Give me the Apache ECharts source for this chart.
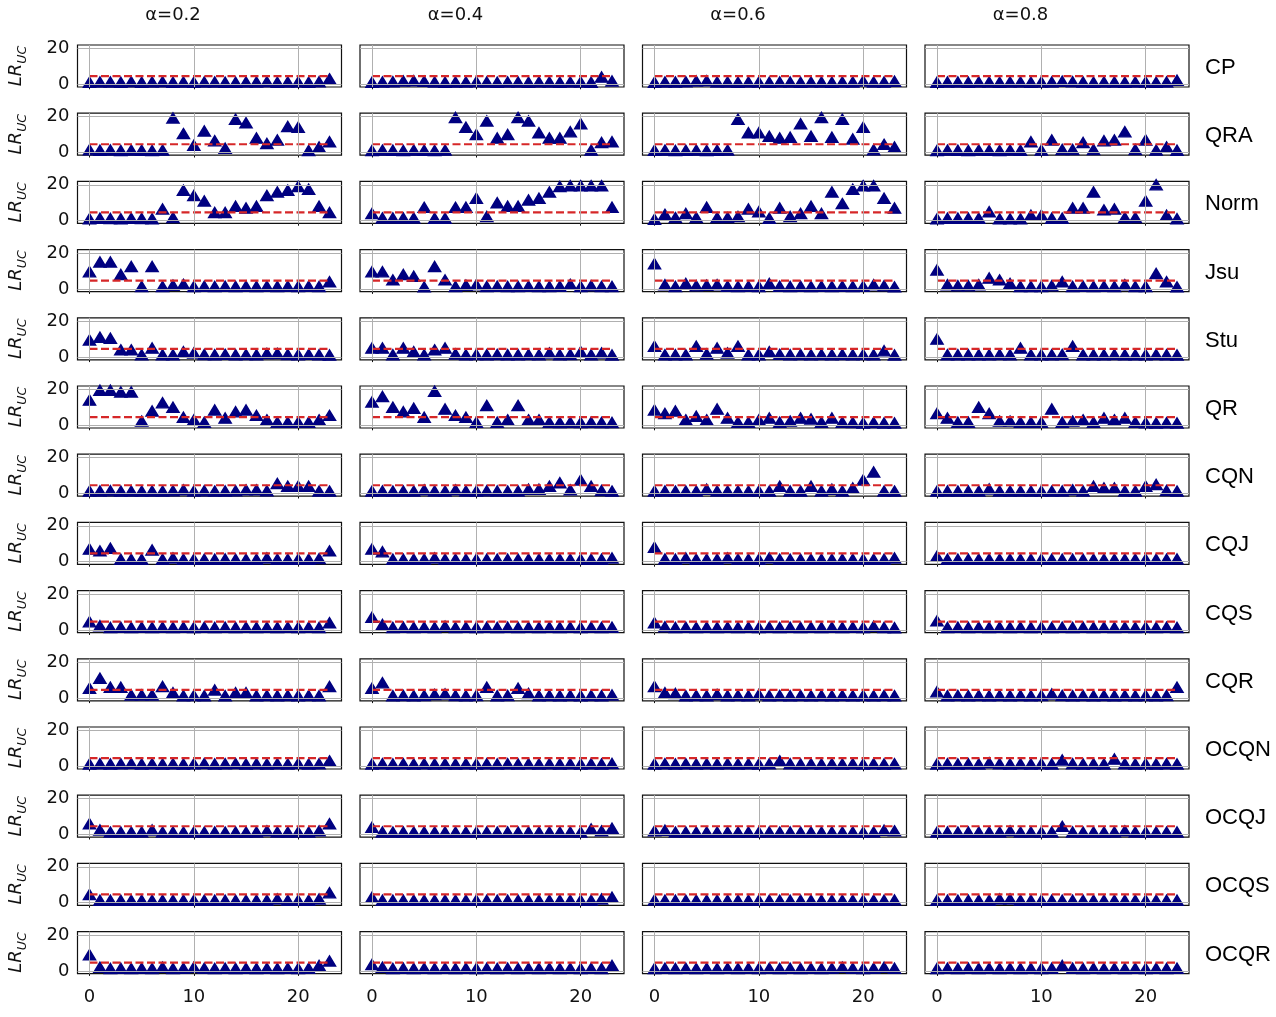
<!DOCTYPE html>
<html>
<head>
<meta charset="utf-8">
<script src="https://cdn.jsdelivr.net/npm/echarts@6/dist/echarts.min.js"></script>
<style>
  html, body { margin: 0; padding: 0; background: #fff; }
  #chart { width: 1276px; height: 1017px; }
</style>
</head>
<body>
<div id="chart"></div>
<script>
// column / row labels and ticks
const alphas = ['α=0.2', 'α=0.4', 'α=0.6', 'α=0.8']
const models = ['CP', 'QRA', 'Norm', 'Jsu', 'Stu', 'QR', 'CQN', 'CQJ', 'CQS', 'CQR', 'OCQN', 'OCQJ', 'OCQS', 'OCQR']
const xTicks = [0, 10, 20]
const yTicks = [0, 20]
const threshold = 4.6 // dashed critical-value line

// LR_uc per window (x = 0..23), one array per alpha
const CP = [
  [1.1,1.3,1.2,1.1,1.4,1.1,1.3,1.4,1.1,1.2,1.1,1.3,1.2,1.1,1.1,1.3,1.2,1.4,1.1,1.2,1.3,1.1,1.4,3.0],
  [1.1,1.3,1.4,1.8,2.0,1.7,1.3,1.1,1.2,1.3,1.4,1.2,1.1,1.3,1.2,1.1,1.3,1.2,1.1,1.3,1.2,1.1,4.0,1.8],
  [1.1,1.3,1.2,1.4,1.8,1.9,1.3,1.2,1.1,1.3,1.2,1.1,1.3,1.2,1.1,1.3,1.2,1.1,1.3,1.2,1.8,1.3,1.2,1.7],
  [1.1,1.2,1.3,1.1,1.3,1.2,1.1,1.2,1.3,1.1,1.2,1.3,1.7,1.4,1.2,1.1,1.3,1.2,1.1,1.3,1.2,1.1,1.3,2.2]
]
const QRA = [
  [1.5,1.2,1.4,1.1,1.3,1.2,1.1,1.3,19.2,10.5,4.0,12.0,6.5,2.3,18.5,16.5,8.0,5.0,7.0,14.5,14.0,1.1,3.0,6.0],
  [1.1,1.3,1.2,1.1,1.3,1.2,1.1,1.3,19.5,14.0,10.0,17.5,8.0,10.0,19.5,17.5,11.0,8.0,8.0,11.5,16.0,1.3,5.5,6.0],
  [1.2,1.3,1.1,1.2,1.3,1.1,1.2,1.3,18.5,11.0,11.0,9.0,8.0,8.5,16.0,9.0,19.5,8.5,18.5,7.5,14.0,1.5,4.5,3.0],
  [1.1,1.3,1.2,1.1,1.3,1.2,1.1,1.3,1.2,6.0,1.3,7.0,1.7,1.7,5.5,1.7,6.5,7.0,11.5,1.7,7.0,1.3,3.0,1.2]
]
const Norm = [
  [1.1,1.3,1.2,1.1,1.3,1.2,1.1,6.5,1.7,17.0,14.0,11.0,4.5,4.5,8.0,7.0,8.0,14.0,16.0,17.0,19.0,17.5,8.0,4.5],
  [4.0,1.5,1.5,1.5,1.5,7.4,1.3,1.3,7.4,7.5,12.5,2.3,10.0,8.0,8.0,11.5,12.5,16.0,19.0,19.5,19.5,19.5,19.5,7.5],
  [0.8,3.5,1.7,4.0,1.7,7.5,1.7,1.7,2.3,6.5,5.0,1.3,7.0,2.3,4.0,8.0,4.0,16.0,9.5,17.5,19.5,19.5,12.5,7.0],
  [1.0,1.3,1.3,1.3,1.3,5.0,1.0,1.0,1.0,3.0,3.0,1.3,1.3,7.0,7.0,16.0,6.0,6.5,1.7,1.7,11.0,20.0,3.0,1.1]
]
const Jsu = [
  [9.5,15.0,15.0,8.0,12.5,1.3,12.5,1.3,2.0,2.5,1.3,1.5,1.3,1.4,1.3,1.5,1.3,1.4,1.3,1.5,1.3,1.4,1.3,4.0],
  [9.5,9.5,5.0,8.0,7.0,1.1,12.5,5.0,1.3,2.0,2.3,1.3,1.4,1.3,1.3,1.4,1.3,1.3,1.4,2.5,1.3,1.7,1.3,1.3],
  [14.0,2.3,1.3,3.0,1.7,2.0,2.3,1.5,1.3,1.5,1.3,3.0,1.5,1.3,1.4,1.3,1.5,1.3,1.4,1.3,1.4,2.3,1.7,1.1],
  [10.5,2.3,1.7,1.7,2.3,6.0,5.0,3.0,1.3,1.3,1.3,1.7,4.0,1.3,1.4,1.3,1.4,1.3,2.3,1.3,1.3,8.5,4.0,1.1]
]
const Stu = [
  [9.5,11.0,10.5,4.0,4.0,1.3,5.0,1.3,1.3,3.0,2.3,1.4,1.3,1.5,1.3,1.4,1.3,2.0,2.0,1.4,1.3,1.5,1.3,1.1],
  [5.0,5.0,1.3,5.0,3.0,1.3,4.0,5.0,1.7,1.3,1.4,1.3,1.4,1.3,1.3,1.4,1.3,2.3,1.3,1.4,3.0,1.3,2.3,1.2],
  [6.0,1.3,1.3,1.3,6.0,1.7,5.0,2.3,6.0,1.3,1.3,3.0,1.5,1.3,1.4,1.3,1.4,1.3,1.4,1.3,1.4,1.3,3.5,1.2],
  [10.0,1.3,1.3,1.3,1.3,1.3,1.4,1.3,5.0,1.3,1.3,1.3,1.4,6.0,1.3,1.3,1.3,1.4,1.3,1.3,1.3,1.4,1.3,1.2]
]
const QR = [
  [14.0,19.5,19.5,18.5,18.5,2.3,8.0,12.5,10.0,4.5,3.0,1.7,8.5,4.0,7.5,8.5,5.5,3.0,1.7,1.7,1.7,1.7,3.0,5.5],
  [13.0,16.0,10.0,7.5,9.5,4.5,19.0,9.0,5.5,4.5,1.7,11.0,1.7,3.0,11.0,3.0,3.0,1.7,1.5,1.7,1.5,1.7,1.5,1.5],
  [8.5,6.5,8.0,3.0,5.0,3.0,9.0,4.0,1.7,1.7,3.0,4.0,1.7,2.3,4.0,3.5,1.7,4.0,1.7,1.5,1.3,1.5,1.3,1.3],
  [6.5,4.0,1.7,1.7,10.0,6.5,2.3,2.3,1.7,1.7,1.7,9.0,1.7,2.3,3.0,1.7,4.0,3.0,4.0,1.7,1.4,1.3,1.4,1.3]
]
const CQN = [
  [1.3,1.4,1.5,1.3,1.4,1.3,1.4,1.3,1.5,2.0,1.4,1.5,1.3,1.4,1.5,2.0,2.0,1.5,5.5,4.0,4.0,4.0,1.3,1.3],
  [1.3,1.4,1.3,1.4,1.3,2.0,1.4,1.3,2.0,1.4,1.3,1.5,1.4,1.3,1.4,2.3,2.3,4.0,6.0,2.0,7.5,4.0,1.7,1.3],
  [1.3,1.4,1.3,1.4,1.3,2.3,1.4,1.3,1.4,1.3,1.4,1.3,4.0,1.4,1.3,4.0,1.4,2.3,1.4,3.0,7.5,12.0,1.3,1.3],
  [1.3,1.4,1.3,1.4,1.3,2.5,1.4,1.3,1.4,1.3,1.4,1.3,1.4,2.0,1.4,4.0,3.0,3.0,1.4,1.3,4.0,5.0,1.7,1.3]
]
const CQJ = [
  [7.0,6.0,7.5,1.3,1.3,1.3,6.5,1.3,2.0,1.4,1.3,1.4,1.3,1.5,1.3,1.4,1.3,2.0,1.4,1.3,1.4,1.3,1.7,6.0],
  [7.0,5.5,1.3,1.4,1.3,1.4,2.0,1.3,1.4,1.3,1.4,1.3,1.4,1.3,1.4,1.3,1.4,1.3,1.4,1.3,1.4,1.3,1.4,2.0],
  [8.0,1.5,1.3,2.0,1.4,1.3,1.4,2.0,1.3,1.4,1.3,2.0,1.4,1.3,1.4,1.3,1.4,1.3,1.4,1.3,1.4,1.3,1.4,2.0],
  [3.0,1.3,1.4,1.3,1.4,1.3,1.4,1.3,1.4,1.3,1.4,1.3,1.4,1.3,1.4,1.3,1.4,1.3,1.4,1.3,1.4,1.3,1.4,1.5]
]
const CQS = [
  [4.5,2.3,1.3,1.4,1.3,1.4,1.3,1.4,1.3,1.4,1.3,1.4,1.3,1.4,1.3,1.4,1.3,1.4,1.3,1.4,1.3,1.4,1.3,4.0],
  [7.0,3.0,1.3,1.4,1.3,1.4,1.3,2.0,1.3,1.4,1.3,1.4,1.3,1.4,1.3,1.4,1.3,1.4,1.3,1.4,1.3,1.4,1.3,1.4],
  [4.0,1.7,1.3,1.4,1.3,1.4,1.3,1.4,1.3,1.4,1.3,1.4,1.3,1.4,1.3,1.4,1.3,1.4,1.3,1.4,1.3,2.0,1.3,1.2],
  [5.0,1.3,1.4,1.3,1.4,1.3,1.4,1.3,1.4,1.3,1.4,1.3,1.4,1.3,1.4,1.3,1.4,1.3,1.4,1.3,1.4,1.3,1.4,1.3]
]
const CQR = [
  [5.5,11.0,6.0,6.0,1.7,1.7,1.7,6.5,3.0,1.3,1.4,1.3,4.5,1.3,3.0,3.0,1.3,1.4,1.3,1.4,1.3,1.4,1.3,6.5],
  [5.5,8.5,1.3,1.4,1.3,1.4,2.0,2.3,1.4,1.3,1.4,6.0,1.3,1.4,5.5,2.5,1.3,1.4,1.3,1.4,1.3,1.4,1.3,1.7],
  [6.5,3.0,2.5,1.3,1.4,1.3,2.0,1.3,1.4,1.3,2.0,1.3,1.4,1.3,1.4,1.3,1.4,1.3,1.4,1.3,1.4,1.3,1.4,1.3],
  [3.5,1.3,1.4,1.3,1.4,1.3,1.4,1.3,1.4,1.3,1.4,2.3,1.4,1.3,1.4,1.3,1.4,1.3,1.4,1.3,1.4,1.3,1.4,6.0]
]
const OCQN = [
  [1.3,1.4,1.3,1.4,1.5,1.3,1.4,1.3,1.4,1.3,1.4,1.5,1.3,1.4,1.5,1.3,1.4,1.3,1.4,1.3,1.5,1.3,1.4,3.0],
  [1.3,1.4,1.3,1.4,1.3,1.4,1.3,1.4,1.3,1.4,1.3,1.4,1.3,1.4,1.3,1.4,1.3,1.4,1.3,1.4,1.3,1.4,1.3,1.5],
  [1.3,1.4,1.3,1.4,1.3,1.4,1.3,1.4,1.3,1.4,1.3,1.4,3.0,1.4,1.3,1.4,1.3,1.4,1.3,1.4,1.3,1.4,1.3,1.4],
  [1.3,1.4,1.3,1.4,1.3,2.0,1.4,1.3,1.4,1.3,1.4,1.3,3.5,1.4,1.3,1.4,1.3,4.0,1.4,1.3,1.4,1.3,1.4,1.3]
]
const OCQJ = [
  [6.0,2.5,1.3,1.4,1.3,1.4,2.5,1.3,1.4,1.3,1.4,1.3,1.4,1.3,1.4,1.3,1.4,2.0,1.4,1.3,1.4,1.3,2.0,6.0],
  [4.0,1.4,1.3,1.4,1.3,1.4,1.3,1.4,1.3,1.4,1.3,1.4,1.3,1.4,1.3,1.4,1.3,1.4,1.3,1.4,1.3,3.0,2.0,3.5],
  [2.0,2.3,1.3,1.4,1.3,1.4,1.3,1.4,1.3,1.4,1.3,1.4,1.3,1.4,1.3,1.4,1.3,1.4,1.3,1.4,1.3,1.4,2.3,2.0],
  [1.3,1.4,1.3,1.4,1.3,1.4,1.3,2.0,1.3,1.4,1.3,1.4,4.5,1.4,1.3,1.4,1.3,1.4,2.0,1.4,1.3,1.4,1.3,1.4]
]
const OCQS = [
  [4.5,1.4,1.3,1.4,1.3,1.4,1.3,1.4,1.3,1.4,1.3,1.4,1.3,1.4,1.3,1.4,1.3,1.4,2.0,1.4,1.3,1.4,2.0,5.5],
  [3.0,1.4,1.3,1.4,1.3,1.4,1.3,1.4,1.3,1.4,1.3,1.4,1.3,1.4,1.3,1.4,1.3,1.4,1.3,1.4,1.3,1.4,2.0,3.0],
  [1.5,1.4,1.3,1.4,1.3,1.4,1.3,1.4,1.3,1.4,1.3,1.4,1.3,1.4,1.3,1.4,1.3,1.4,1.3,1.4,1.3,1.4,1.3,1.5],
  [1.3,1.4,1.3,1.4,1.3,1.4,2.0,2.0,1.3,1.4,1.3,1.4,1.3,1.4,1.3,1.4,1.3,1.4,1.3,1.4,1.3,1.4,1.3,1.4]
]
const OCQR = [
  [9.0,2.0,1.3,1.4,1.3,1.4,1.3,2.0,1.3,1.4,2.0,1.4,1.3,1.4,1.3,1.4,1.3,1.4,1.3,1.4,1.3,1.4,3.0,5.5],
  [3.5,2.0,1.3,1.4,1.3,1.4,1.3,1.4,1.3,1.4,1.3,1.4,1.3,1.4,1.3,1.4,1.3,1.4,1.3,1.4,1.3,1.4,1.3,3.0],
  [1.3,1.4,1.3,1.4,1.3,1.4,1.3,1.4,1.3,1.4,1.3,1.4,1.3,1.4,1.3,1.4,1.3,1.4,2.0,1.4,1.3,1.4,2.0,1.4],
  [1.3,1.4,1.3,1.4,1.3,1.4,1.3,1.4,1.3,1.4,1.3,1.4,3.0,1.4,1.3,1.4,1.3,1.4,1.3,1.4,1.3,1.4,1.3,1.4]
]
const rows = [CP, QRA, Norm, Jsu, Stu, QR, CQN, CQJ, CQS, CQR, OCQN, OCQJ, OCQS, OCQR]

// layout (px)
const colLeft = [77.5, 360, 642.5, 925]
const boxW = 264
const boxH = 42
const top0 = 45
const rowStep = 68.2

const chart = echarts.init(document.getElementById('chart'))

const grids = [], xAxes = [], yAxes = [], series = [], graphics = []
const tickFont = { fontFamily: 'DejaVu Sans', fontSize: 18, color: '#111' }

rows.forEach((rowData, r) => {
  rowData.forEach((vals, c) => {
    const i = grids.length
    grids.push({
      left: colLeft[c], top: top0 + r * rowStep, width: boxW, height: boxH,
      show: true, borderColor: '#111', borderWidth: 1.2, backgroundColor: '#fff'
    })
    xAxes.push({
      type: 'value', gridIndex: i, min: -1.15, max: 24.15,
      axisLine: { show: false },
      splitLine: { show: false },
      axisTick: { show: true, customValues: xTicks, length: 5, lineStyle: { color: '#111', width: 1 } },
      axisLabel: Object.assign({ show: r === rows.length - 1, customValues: xTicks, margin: 15 }, tickFont)
    })
    yAxes.push({
      type: 'value', gridIndex: i, min: -1.5, max: 21.9,
      axisLine: { show: false },
      splitLine: { show: false },
      axisTick: { show: true, customValues: yTicks, length: 5, lineStyle: { color: '#111', width: 1 } },
      axisLabel: Object.assign({ show: c === 0, customValues: yTicks, margin: 8 }, tickFont),
      name: c === 0 ? '{a|LR}{b|UC}' : '',
      nameLocation: 'middle',
      nameRotate: 90,
      nameGap: 48,
      nameTextStyle: {
        rich: {
          a: { fontFamily: 'DejaVu Sans', fontStyle: 'italic', fontSize: 18, lineHeight: 26, color: '#111' },
          b: { fontFamily: 'DejaVu Sans', fontStyle: 'italic', fontSize: 12.5, lineHeight: 12, verticalAlign: 'bottom', color: '#111' }
        }
      }
    })
    // grid lines (below markers)
    series.push({
      type: 'line', xAxisIndex: i, yAxisIndex: i, z: 1, silent: true,
      data: [[0, threshold], [23, threshold]],
      showSymbol: false, lineStyle: { opacity: 0 },
      markLine: {
        silent: true, symbol: 'none', animation: false,
        label: { show: false },
        lineStyle: { color: '#b0b0b0', width: 1, type: 'solid' },
        data: xTicks.map(v => ({ xAxis: v })).concat(yTicks.map(v => ({ yAxis: v })))
      }
    })
    series.push({
      type: 'scatter', xAxisIndex: i, yAxisIndex: i, z: 3,
      symbol: 'triangle', symbolSize: [12, 10],
      itemStyle: { color: '#000080', opacity: 1, borderColor: '#000080', borderWidth: 1.5 },
      data: vals.map((v, k) => [k, v])
    })
    series.push({
      type: 'line', xAxisIndex: i, yAxisIndex: i, z: 4, silent: true,
      data: [[0, threshold], [23, threshold]],
      showSymbol: false,
      lineStyle: { color: '#d62728', width: 2.2, type: [8, 3.5] }
    })
  })
  graphics.push({
    type: 'text', left: colLeft[3] + boxW + 16, top: top0 + r * rowStep + boxH / 2 - 9,
    style: { text: models[r], fontFamily: 'Liberation Sans', fontSize: 22, fill: '#000' }
  })
})

alphas.forEach((a, c) => {
  graphics.push({
    type: 'text', x: colLeft[c] + 95.5, y: 15,
    style: { text: a, fontFamily: 'DejaVu Sans', fontSize: 18, fill: '#111', align: 'center', verticalAlign: 'middle' }
  })
})

chart.setOption({
  animation: false,
  backgroundColor: '#fff',
  grid: grids,
  xAxis: xAxes,
  yAxis: yAxes,
  series: series,
  graphic: graphics
})
</script>
</body>
</html>
